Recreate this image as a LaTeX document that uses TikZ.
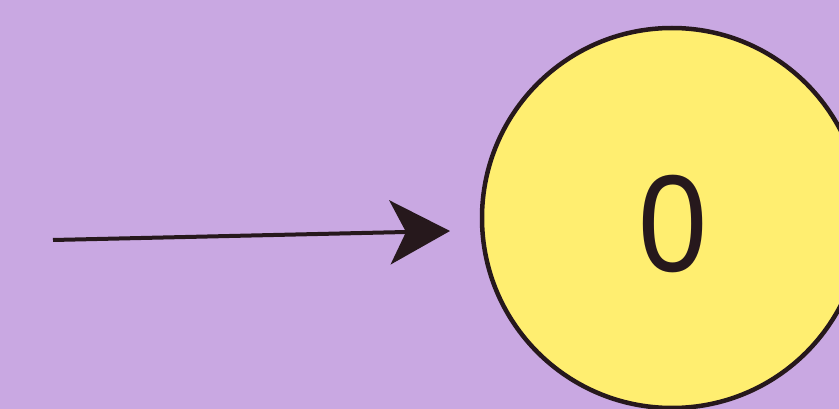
\documentclass[tikz,border=0pt]{standalone}
\usepackage{fontspec}
\setmainfont{Liberation Sans}
\usetikzlibrary{arrows.meta}
\definecolor{bgpurple}{RGB}{201,168,226}
\definecolor{discyellow}{RGB}{255,238,112}
\definecolor{inkdark}{RGB}{38,24,28}
\tikzset{
  disc/.style={circle, draw=inkdark, line width=4.5pt, fill=discyellow, minimum size=380pt, inner sep=0pt},
  digit/.style={font=\fontsize{138}{138}\selectfont, text=inkdark, inner sep=0pt, xscale=0.9},
  feed/.style={draw=inkdark, line width=4pt, -{Stealth[length=60pt, width=64pt, inset=16pt]}}
}
\begin{document}
\begin{tikzpicture}[x=1pt,y=-1pt]
  \fill[bgpurple] (0,0) rectangle (839,409);
  \useasboundingbox (0,0) rectangle (839,409);
  \node[disc] (c) at (672,218) {};
  \node[digit] (z) at (673,224) {0};
  \coordinate (s) at (53,240);
  \coordinate (e) at (450,231);
  \draw[feed] (s) -- (e);
\end{tikzpicture}
\end{document}
